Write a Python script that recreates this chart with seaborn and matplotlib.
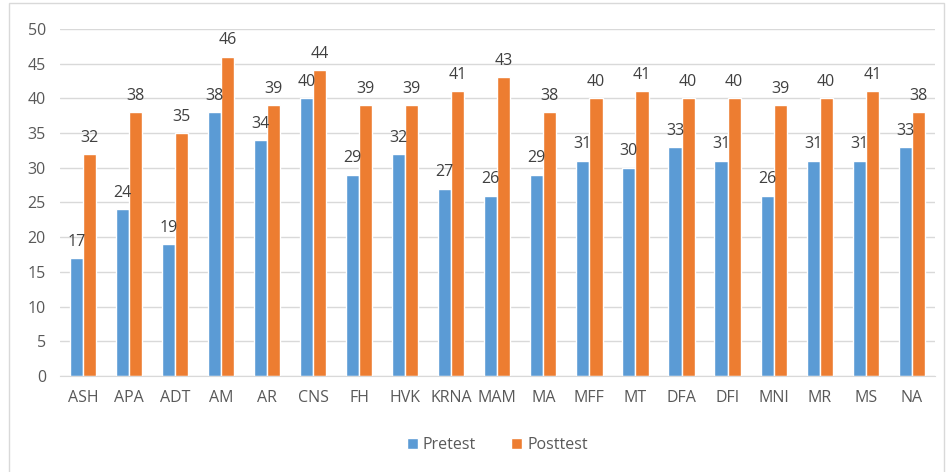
import matplotlib.pyplot as plt
import seaborn as sns
import pandas as pd
from matplotlib.patches import Rectangle

categories = ['ASH', 'APA', 'ADT', 'AM', 'AR', 'CNS', 'FH', 'HVK', 'KRNA', 'MAM',
              'MA', 'MFF', 'MT', 'DFA', 'DFI', 'MNI', 'MR', 'MS', 'NA']
pretest = [17, 24, 19, 38, 34, 40, 29, 32, 27, 26, 29, 31, 30, 33, 31, 26, 31, 31, 33]
posttest = [32, 38, 35, 46, 39, 44, 39, 39, 41, 43, 38, 40, 41, 40, 40, 39, 40, 41, 38]

df = pd.DataFrame({'Category': categories * 2,
                   'Score': pretest + posttest,
                   'Test': ['Pretest'] * len(categories) + ['Posttest'] * len(categories)})

sns.set_style('white')
plt.rcParams['font.family'] = ['Open Sans', 'DejaVu Sans']
txt = '#595959'
fs = 11.5

fig = plt.figure(figsize=(9.5, 4.72), dpi=100)
ax = fig.add_axes([0.063, 0.203, 0.921, 0.736])
sns.barplot(data=df, x='Category', y='Score', hue='Test',
            palette=['#5B9BD5', '#ED7D31'], width=0.57, ax=ax, saturation=1)

for c in ax.containers:
    ax.bar_label(c, padding=6, fontsize=fs, color='#404040')

ax.set_ylim(0, 50)
ax.set_yticks(range(0, 51, 5))
ax.set_xlim(-0.5, len(categories) - 0.5)
ax.yaxis.grid(True, color='#d9d9d9', linewidth=1)
ax.set_axisbelow(True)
for s in ['top', 'right', 'left']:
    ax.spines[s].set_visible(False)
ax.spines['bottom'].set_color('#d9d9d9')
ax.tick_params(axis='both', length=0, labelsize=fs, colors=txt, pad=10)
ax.set_xlabel('')
ax.set_ylabel('')

ax.legend(loc='upper center', bbox_to_anchor=(0.5, -0.135), ncol=2, frameon=False,
          fontsize=fs, labelcolor=txt, handlelength=0.7, handleheight=0.7,
          columnspacing=2.2, handletextpad=0.3)

fig.patches.append(Rectangle((0.009, -0.01), 0.985, 1.003, transform=fig.transFigure,
                             fill=False, edgecolor='#d9d9d9', linewidth=1))

fig.savefig('out.png', dpi=100)
